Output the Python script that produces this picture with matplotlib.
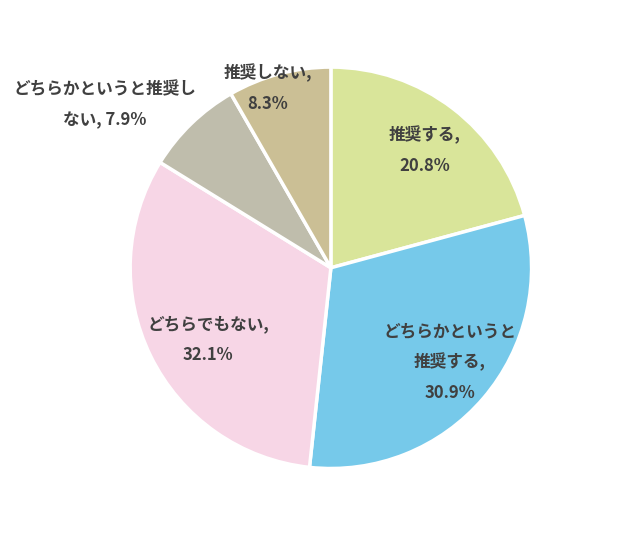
import matplotlib
matplotlib.use('Agg')
import matplotlib.pyplot as plt

plt.rcParams['font.family'] = ['Noto Sans CJK JP', 'DejaVu Sans']

labels = ['推奨する,\n20.8%', 'どちらかというと\n推奨する,\n30.9%', 'どちらでもない,\n32.1%',
          'どちらかというと推奨し\nない, 7.9%', '推奨しない,\n8.3%']
values = [20.8, 30.9, 32.1, 7.9, 8.3]
colors = ['#d9e59a', '#76c9ea', '#f7d6e6', '#bfbdac', '#cbbf95']
# label positions in pixels of the 640x541 image
label_px = [(425, 150), (450, 362), (208, 340), (105, 105), (268, 88)]

fig = plt.figure(figsize=(6.4, 5.41), dpi=100)
ax = fig.add_axes([0.517 - 0.392, 0.505 - 0.464, 0.784, 0.928])
ax.pie(values, colors=colors, startangle=90, counterclock=False,
       wedgeprops=dict(edgecolor='white', linewidth=2.5))
ax.set_aspect('equal')

for lab, (px, py) in zip(labels, label_px):
    fig.text(px / 640, 1 - py / 541, lab, ha='center', va='center',
             fontsize=12, fontweight='bold', color='#404040', linespacing=1.9)

fig.savefig('out.png', dpi=100)
